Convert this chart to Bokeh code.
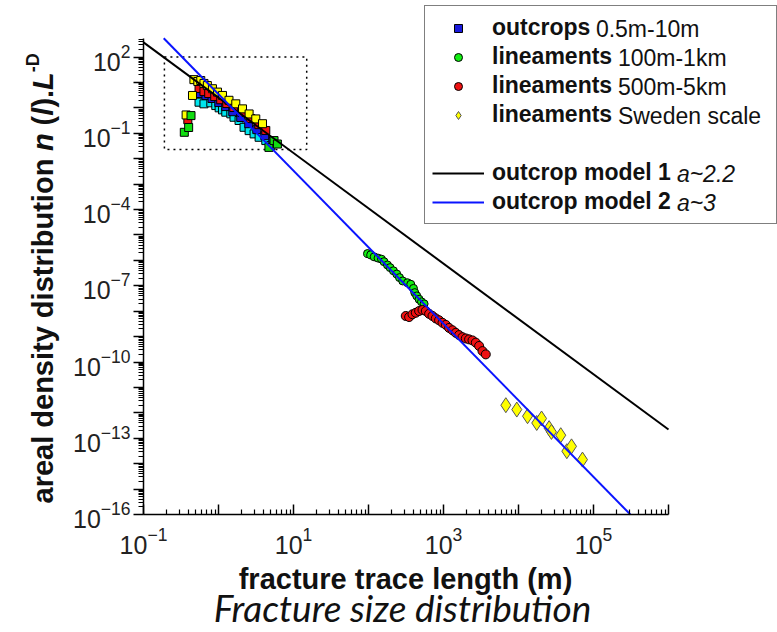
import math
from bokeh.plotting import figure
from bokeh.models import FixedTicker, Legend, LegendItem, Label, Range1d
from bokeh.embed import file_html
from bokeh.resources import INLINE

# ---- outcrop trace-length data (several sampling sites, squares) ----
out_yellow_x = [0.37, 0.45, 0.47, 0.53, 0.58, 0.64, 0.71, 0.83, 0.97, 1.13, 1.38, 1.70, 2.09, 2.56, 3.14, 3.86]
out_yellow_y = [0.53, 3.1, 13.0, 11.0, 12.0, 9.2, 7.6, 5.7, 4.2, 3.1, 2.0, 1.45, 0.92, 0.58, 0.37, 0.24]

out_red_x = [0.39, 0.55, 0.64, 0.74, 0.89, 1.07, 1.29, 1.60, 2.05, 2.70, 3.45, 4.27]
out_red_y = [0.34, 5.8, 4.4, 3.7, 2.8, 2.1, 1.49, 1.04, 0.66, 0.38, 0.22, 0.13]

out_blue_x = [0.56, 0.68, 0.82, 1.01, 1.25, 1.55, 1.98, 2.53, 3.24, 4.14, 5.30]
out_blue_y = [3.7, 3.1, 2.35, 1.63, 1.13, 0.71, 0.42, 0.24, 0.14, 0.081, 0.047]

out_cyan_x = [0.55, 0.64, 0.79, 0.92, 1.02, 1.13, 1.25, 1.46, 1.61, 1.88, 2.19, 2.56, 2.98, 3.48, 4.27, 4.98]
out_cyan_y = [1.68, 1.45, 1.59, 1.24, 1.01, 0.84, 0.68, 0.585, 0.43, 0.32, 0.173, 0.128, 0.095, 0.070, 0.052, 0.033]

out_green_x = [0.35, 0.40, 0.43, 4.7, 5.5, 6.1]
out_green_y = [0.11, 0.17, 0.50, 0.028, 0.052, 0.038]

# ---- lineament data ----
lin100_x = [97, 107, 119, 134, 149, 161, 179, 194, 215, 238, 259, 286, 331, 366, 398, 414, 440, 473, 509, 551]
lin100_y = [1.86e-6, 1.66e-6, 1.38e-6, 1.23e-6, 1.12e-6, 8.9e-7, 6.6e-7, 5.2e-7, 3.9e-7, 2.9e-7,
            2.1e-7, 1.55e-7, 1.32e-7, 1.15e-7, 7.9e-8, 5.4e-8, 4.0e-8, 2.95e-8, 2.34e-8, 1.95e-8]

lin500_x = [314, 348, 386, 427, 473, 525, 581, 643, 713, 789, 873, 970, 1074, 1188, 1318, 1459,
            1614, 1791, 1982, 2193, 2436, 2697, 2985, 3311, 3664]
lin500_y = [6.5e-9, 5.9e-9, 7.6e-9, 8.7e-9, 1.02e-8, 1.12e-8, 1.02e-8, 7.9e-9, 6.5e-9, 5.2e-9,
            4.4e-9, 3.5e-9, 2.9e-9, 2.2e-9, 1.78e-9, 1.41e-9, 1.15e-9, 9.5e-10, 8.5e-10, 7.8e-10,
            7.1e-10, 5.8e-10, 4.3e-10, 2.7e-10, 2.0e-10]

sweden_x = [6780, 9490, 13200, 17500, 20300, 25600, 27500, 36600, 44100, 50900, 71300]
sweden_y = [2.0e-12, 1.35e-12, 7.4e-13, 4.0e-13, 6.0e-13, 2.5e-13, 1.78e-13, 1.32e-13, 3.1e-14, 4.8e-14, 1.45e-14]

# ---- power-law models (end points inside the axes box) ----
model1_x = [0.1, 1e6]
model1_y = [380.0, 2.2e-13]
model2_x = [0.186, 3.1e5]
model2_y = [550.0, 1e-16]

# ---- zoom window drawn around the outcrop data ----
box_x = [0.19, 15.0]
box_y = [0.023, 100.0]

# ---- axis extents and ticks ----
X_LO, X_HI = 0.1, 1e6
Y_LO, Y_HI = 1e-16, 550.0
x_major = [10.0 ** e for e in range(-1, 7)]
x_labelled = [0.1, 10.0, 1e3, 1e5]
x_minor = [m * 10.0 ** e for e in range(-1, 6) for m in range(2, 10)]
y_major = [10.0 ** e for e in range(-16, 3)]
y_labelled = [1e2, 1e-1, 1e-4, 1e-7, 1e-10, 1e-13, 1e-16]
y_minor = [m * 10.0 ** e for e in range(-16, 3) for m in range(2, 10) if m * 10.0 ** e < Y_HI]

FONT = "Liberation Sans"
W, H = 777, 632
# pixel geometry of the axes box on the page
AX_L, AX_R, AX_B = 143, 668, 514
PX_DEC_X = (AX_R - AX_L) / 7.0
PX_DEC_Y = 25.41

# the drawing frame fills the page; the axes sit at fixed positions inside it
x0 = 10 ** (-1 - AX_L / PX_DEC_X)
x1 = 10 ** (-1 + (W - AX_L) / PX_DEC_X)
y0 = 10 ** (-16 - (H - AX_B) / PX_DEC_Y)
y1 = 10 ** (-16 + AX_B / PX_DEC_Y)

p = figure(width=W, height=H, x_axis_type="log", y_axis_type="log",
           x_range=Range1d(x0, x1), y_range=Range1d(y0, y1),
           output_backend="svg", toolbar_location=None, min_border=0)
p.title.visible = False
p.grid.visible = False
p.outline_line_color = None
p.background_fill_color = "white"
p.border_fill_color = "white"

for ax in (p.xaxis[0], p.yaxis[0]):
    ax.axis_line_width = 1.5
    ax.axis_line_color = "black"
    ax.major_tick_line_width = 1.5
    ax.minor_tick_line_width = 1.2
    ax.major_label_text_font = FONT
    ax.major_label_text_font_size = "25px"
    ax.major_label_text_color = "#222222"

p.xaxis.fixed_location = Y_LO
p.xaxis.bounds = (X_LO, X_HI)
p.xaxis.ticker = FixedTicker(ticks=x_major, minor_ticks=x_minor)
p.xaxis.major_label_overrides = {t: "" for t in x_major if t not in x_labelled}
p.xaxis.major_tick_in = 10
p.xaxis.major_tick_out = 0
p.xaxis.minor_tick_in = 5
p.xaxis.minor_tick_out = 0
p.xaxis.major_label_standoff = 12

p.yaxis.fixed_location = X_LO
p.yaxis.bounds = (Y_LO, Y_HI)
p.yaxis.ticker = FixedTicker(ticks=y_major, minor_ticks=y_minor)
p.yaxis.major_label_overrides = {t: "" for t in y_major if t not in y_labelled}
p.yaxis.major_tick_in = 0
p.yaxis.major_tick_out = 10
p.yaxis.minor_tick_in = 0
p.yaxis.minor_tick_out = 5
p.yaxis.major_label_standoff = 3

# dotted zoom window
p.quad(left=[box_x[0]], right=[box_x[1]], bottom=[box_y[0]], top=[box_y[1]],
       fill_alpha=0, line_color="black", line_width=1.5, line_dash="2 4")

# outcrop squares
sq = dict(marker="square", size=8, line_color="black", line_width=1)
p.scatter(out_cyan_x, out_cyan_y, fill_color="#00e5ee", **sq)
r_out = p.scatter(out_blue_x, out_blue_y, fill_color="#1a1adc", **sq)
p.scatter(out_red_x, out_red_y, fill_color="#ee1111", **sq)
p.scatter(out_yellow_x, out_yellow_y, fill_color="#ffff00", **sq)
p.scatter(out_green_x, out_green_y, fill_color="#11dd11", **sq)

# lineament maps
r_l100 = p.scatter(lin100_x, lin100_y, marker="circle", size=8, fill_color="#11ee11",
                   line_color="black", line_width=1)
r_l500 = p.scatter(lin500_x, lin500_y, marker="circle", size=9, fill_color="#ee1111",
                   line_color="black", line_width=1)
r_swe = p.scatter(sweden_x, sweden_y, marker="diamond", size=15, fill_color="#ffff00",
                  line_color="#555555", line_width=1)

# model lines
r_m1 = p.line(model1_x, model1_y, line_color="black", line_width=2)
r_m2 = p.line(model2_x, model2_y, line_color="#0a14ff", line_width=2)
r_gap = p.line([], [], line_alpha=0)

# legend: bold part of each entry; the box is see-through (nothing is drawn
# beneath it) so the regular-weight parts placed afterwards stay visible
LEG_L, LEG_T, LEG_PAD, ROW = 424, 7, 7, 29
legend = Legend(items=[
    LegendItem(label="outcrops", renderers=[r_out]),
    LegendItem(label="lineaments", renderers=[r_l100]),
    LegendItem(label="lineaments", renderers=[r_l500]),
    LegendItem(label="lineaments", renderers=[r_swe]),
    LegendItem(label=" ", renderers=[r_gap]),
    LegendItem(label="outcrop model 1", renderers=[r_m1]),
    LegendItem(label="outcrop model 2", renderers=[r_m2]),
])
legend.label_text_font = FONT
legend.label_text_font_style = "bold"
legend.label_text_font_size = "23px"
legend.label_text_color = "#111111"
legend.glyph_width = 52
legend.glyph_height = 20
legend.label_height = ROW
legend.label_width = 277
legend.label_standoff = 8
legend.spacing = 0
legend.padding = LEG_PAD
legend.margin = 0
legend.border_line_color = "black"
legend.border_line_width = 1.5
legend.background_fill_alpha = 0
leg_h = 2 * LEG_PAD + 7 * ROW
legend.location = (LEG_L, H - LEG_T - leg_h)
p.add_layout(legend)


def put(text, cx, cy, size, style="normal", align="left", font=FONT, angle=0.0,
        color="#111111"):
    """Place a text centred vertically on page pixel (cx, cy), from the top-left corner."""
    p.add_layout(Label(x=cx, y=H - cy, x_units="screen", y_units="screen", text=text,
                       text_font=font, text_font_size=size, text_font_style=style,
                       text_align=align, text_baseline="middle", angle=angle,
                       text_color=color))


# regular-weight parts of the legend entries
row_c = [LEG_T + LEG_PAD + ROW / 2 + ROW * k for k in range(7)]
txt_x = LEG_L + LEG_PAD + 52 + 8
sp = 6.4
put("0.5m-10m", txt_x + 98 + sp, row_c[0], "23px")
put("100m-1km", txt_x + 120 + sp, row_c[1], "23px")
put("500m-5km", txt_x + 120 + sp, row_c[2], "23px")
put("Sweden scale", txt_x + 120 + sp, row_c[3], "23px")
put("a~2.2", txt_x + 179 + sp, row_c[5], "23px", style="italic")
put("a~3", txt_x + 179 + sp, row_c[6], "23px", style="italic")

# x axis title and caption
put("fracture trace length (m)", 405, 578, "29px", style="bold", align="center")
put("Fracture size distribution", 402, 607, "37px", style="italic", align="center", font="Lato")

# y axis title, built from pieces (reads bottom to top)
up = math.pi / 2
ylab_x = 42
pieces = [
    ("areal density distribution", "bold", 503),
    ("n", "bold italic", 150.6),
    ("(", "bold", 124.9),
    ("l", "bold italic", 115.2),
    (").", "bold", 107.1),
    ("L", "bold italic", 89.4),
]
for txt, st, cy in pieces:
    put(txt, ylab_x, cy, "29px", style=st, angle=up)
put("-D", ylab_x - 10, 71.7, "18px", style="bold", angle=up)

open("out.html", "w").write(file_html(p, INLINE))
